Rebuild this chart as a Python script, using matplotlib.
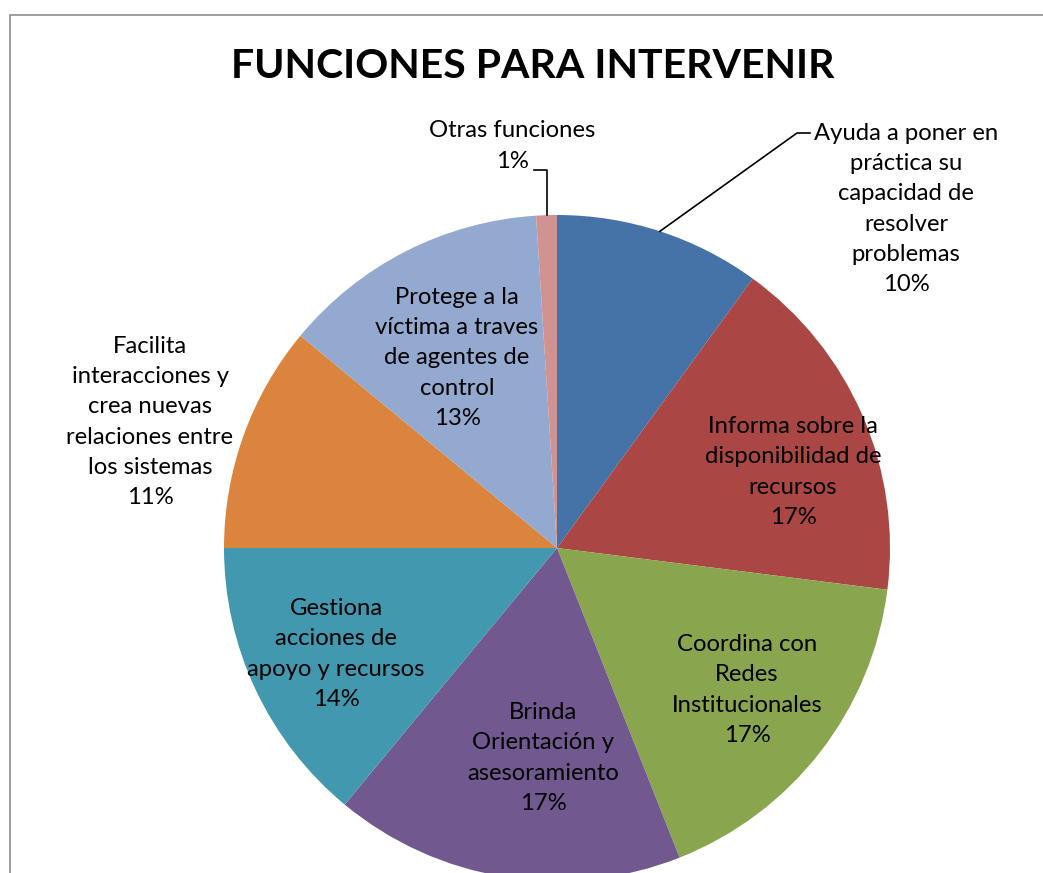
import numpy as np
import matplotlib.pyplot as plt
from matplotlib.patches import Rectangle

title = "FUNCIONES PARA INTERVENIR"
labels = [
    "Ayuda a poner en\npráctica su\ncapacidad de\nresolver\nproblemas",
    "Informa sobre la\ndisponibilidad de\nrecursos",
    "Coordina con\nRedes\nInstitucionales",
    "Brinda\nOrientación y\nasesoramiento",
    "Gestiona\nacciones de\napoyo y recursos",
    "Facilita\ninteracciones y\ncrea nuevas\nrelaciones entre\nlos sistemas",
    "Protege a la\nvíctima a traves\nde agentes de\ncontrol",
    "Otras funciones",
]
values = [10, 17, 17, 17, 14, 11, 13, 1]
colors = ["#4572A7", "#AA4643", "#89A54E", "#71588F",
          "#4198AF", "#DB843D", "#93A9CF", "#D19392"]

W, H = 1043, 873
FONT = ["Lato", "DejaVu Sans"]

fig = plt.figure(figsize=(W / 100, H / 100), dpi=100)
ax = fig.add_axes([0, 0, 1, 1])

# pie placed in pixel-like data units (y up)
cx, cy, R = 557, H - 548, 333
wedges, _ = ax.pie(values, colors=colors, startangle=90, counterclock=False,
                   radius=R, center=(cx, cy), wedgeprops=dict(linewidth=0))
ax.set_xlim(0, W)
ax.set_ylim(0, H)
ax.set_aspect("equal")
ax.axis("off")

# chart border
ax.add_patch(Rectangle((10, -20), W + 20, H - 15 + 20, fill=False,
                       edgecolor="#8c8c8c", linewidth=1.2, clip_on=False))

ax.text(533, H - 67, title, ha="center", va="center", fontsize=29.5,
        fontweight="bold", family=FONT)

# label positions in image pixels (x, y from top)
pos = [(906, 209), (793, 472), (747, 690), (543, 758),
       (336, 654), (150, 422), (457, 358), (512, 146)]

for lab, v, (x, y) in zip(labels, values, pos):
    ax.text(x, H - y, f"{lab}\n{v}%", ha="center", va="center",
            fontsize=17.2, linespacing=1.55, family=FONT, color="black")


def edge_point(w):
    a = np.deg2rad((w.theta1 + w.theta2) / 2)
    return cx + R * np.cos(a), cy + R * np.sin(a)


# leader lines for outside labels
x0, y0 = edge_point(wedges[0])
ax.plot([x0, 797, 810], [y0, H - 133, H - 133], color="black", lw=1.2)
x0, y0 = edge_point(wedges[7])
ax.plot([x0, x0, x0 - 13], [y0, H - 170, H - 170], color="black", lw=1.2)

fig.savefig("out.png", dpi=100)
